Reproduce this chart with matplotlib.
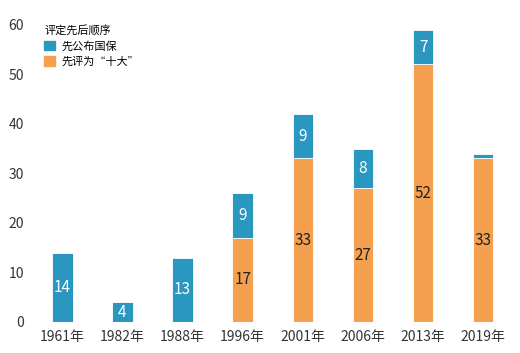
import numpy as np
import matplotlib.pyplot as plt
from matplotlib.patches import Patch

plt.rcParams['font.family'] = ['Noto Sans CJK SC', 'DejaVu Sans']

years = ['1961年', '1982年', '1988年', '1996年', '2001年', '2006年', '2013年', '2019年']
guobao_first = [14, 4, 13, 9, 9, 8, 7, 1]      # 先公布国保
shida_first = [0, 0, 0, 17, 33, 27, 52, 33]    # 先评为“十大”

blue = '#2a97c1'
orange = '#f5a04f'

fig = plt.figure(figsize=(5.2, 3.53), dpi=100)
ax = fig.add_axes([0.062, 0.088, 0.925, 0.842])

x = np.arange(len(years))
w = 0.34
ax.bar(x, shida_first, w, color=orange, edgecolor='white', linewidth=0.6)
ax.bar(x, guobao_first, w, bottom=shida_first, color=blue, edgecolor='white', linewidth=0.6)

for i in range(len(years)):
    o = shida_first[i]
    b = guobao_first[i]
    if o > 1:
        ax.text(x[i], o / 2, str(o), ha='center', va='center', fontsize=11, color='#222222')
    if b > 1:
        ax.text(x[i], o + b / 2, str(b), ha='center', va='center', fontsize=11, color='white')

ax.set_xlim(-0.5, len(years) - 0.5)
ax.set_ylim(0, 60)
ax.set_xticks(x)
ax.set_xticklabels(years, fontsize=10, color='#333333')
ax.set_yticks(range(0, 61, 10))
ax.set_yticklabels([str(v) for v in range(0, 61, 10)], fontsize=10, color='#333333')
ax.tick_params(length=0, pad=6)
for s in ax.spines.values():
    s.set_visible(False)

handles = [Patch(color=blue, label='先公布国保'), Patch(color=orange, label='先评为“十大”')]
leg = ax.legend(handles=handles, title='评定先后顺序', loc='upper left', bbox_to_anchor=(0.025, 1.0),
                frameon=False, fontsize=8, title_fontsize=8, handlelength=0.95, handleheight=0.95,
                handletextpad=0.6, labelspacing=0.45, borderpad=0.0, borderaxespad=0.0)
leg._legend_box.align = 'left'

fig.savefig('out.png', dpi=100)
